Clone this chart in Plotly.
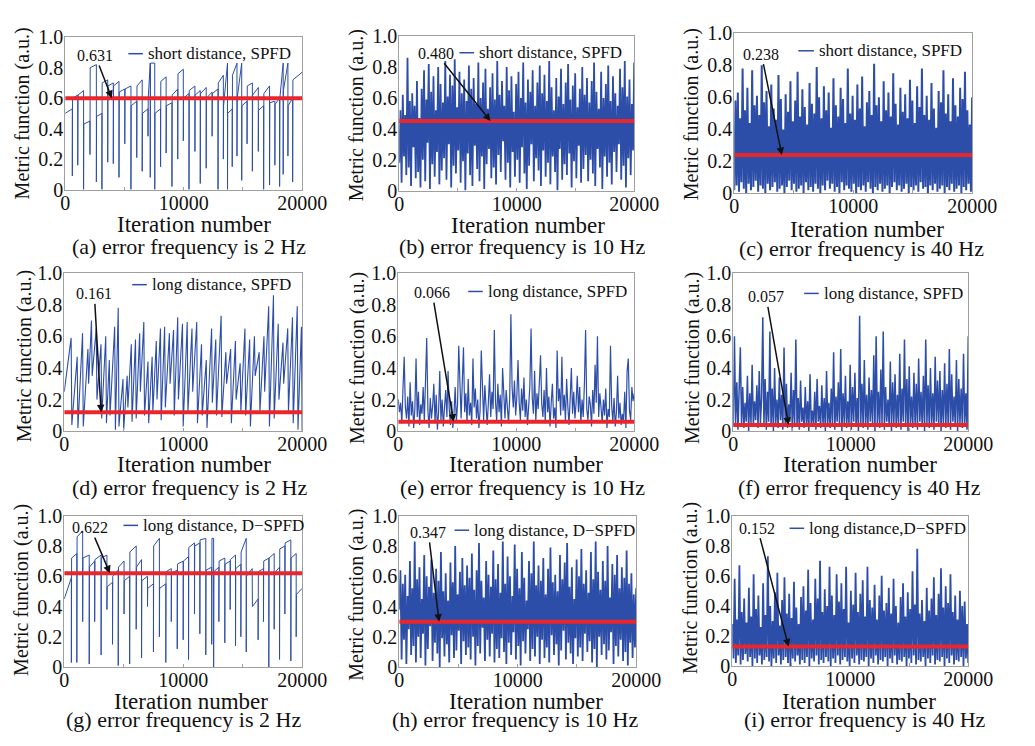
import plotly.graph_objects as go

W, H = 1035, 746          # reference picture size (layout is given in these pixels)
FONT = "Liberation Serif"
BLUE = "#2d4ea8"
RED = "#e8262c"
FRAME = "#a0a0a0"

# ---------------- data ----------------
x_ticks = [0, 5000, 10000, 15000, 20000]
x_ticktext = ["0", "", "10000", "", "20000"]
y_ticks = [0, 0.2, 0.4, 0.6, 0.8, 1.0]
y_ticktext = ["0", "0.2", "0.4", "0.6", "0.8", "1.0"]

legend_labels = ["short distance, SPFD", "short distance, SPFD", "short distance, SPFD",
                 "long distance, SPFD", "long distance, SPFD", "long distance, SPFD",
                 "long distance, D\u2212SPFD", "long distance, D\u2212SPFD", "long distance,D\u2212SPFD"]
captions = ["(a) error frequency is 2 Hz", "(b) error frequency is 10 Hz", "(c) error frequency is 40 Hz",
            "(d) error frequency is 2 Hz", "(e) error frequency is 10 Hz", "(f) error frequency is 40 Hz",
            "(g) error frequency is 2 Hz", "(h) error frequency is 10 Hz", "(i) error frequency is 40 Hz"]
mean_labels = ["0.631", "0.480", "0.238", "0.161", "0.066", "0.057", "0.622", "0.347", "0.152"]
mean_levels = [0.60, 0.45, 0.24, 0.12, 0.06, 0.04, 0.62, 0.30, 0.13]
arrow_iter = [3930, 7770, 4000, 3100, 4690, 4700, 3840, 3360, 4770]

# (a) short distance, SPFD, 2 Hz : plateau cycles
a_cycle_iter = [0, 600, 1060, 1550, 2090, 2630, 3100, 3590, 4060, 4540, 5030, 5550, 6040, 6500, 6990,
                7180, 7560, 8050, 8520, 9010, 9500, 9970, 10450, 10950, 11400, 11900, 12400, 12900,
                13350, 13700, 14100, 14500, 14900, 15350, 15800, 16300, 16750, 17250, 17700, 18100,
                18400, 18800, 19200]
a_low = [0.50, 0.09, 0.16, 0.00, 0.23, 0.05, 0.00, 0.18, 0.17, 0.08, 0.30, 0.00, 0.21, 0.12, 0.35,
         0.08, 0.00, 0.15, 0.24, 0.02, 0.20, 0.32, 0.00, 0.25, 0.04, 0.14, 0.35, 0.00, 0.20, 0.00,
         0.15, 0.22, 0.06, 0.30, 0.12, 0.25, 0.00, 0.03, 0.16, 0.02, 0.10, 0.22, 0.05]
a_start = [0.50, 0.60, 0.62, 0.43, 0.80, 0.48, 0.70, 0.68, 0.68, 0.64, 0.66, 0.55, 0.68, 0.50, 0.60,
           0.83, 0.50, 0.71, 0.55, 0.62, 0.76, 0.60, 0.65, 0.62, 0.63, 0.60, 0.63, 0.70, 0.55, 0.50,
           0.75, 0.60, 0.55, 0.68, 0.62, 0.52, 0.63, 0.57, 0.56, 0.60, 0.65, 0.55, 0.72]
a_end = [0.53, 0.62, 0.65, 0.45, 0.82, 0.50, 0.72, 0.70, 0.71, 0.66, 0.68, 0.58, 0.72, 0.53, 0.83,
         0.83, 0.53, 0.74, 0.57, 0.66, 0.79, 0.63, 0.68, 0.65, 0.67, 0.64, 0.66, 0.75, 0.83, 0.53,
         0.83, 0.83, 0.58, 0.70, 0.67, 0.55, 0.68, 0.58, 0.60, 0.83, 0.83, 0.60, 0.77]

# (b) short distance, SPFD, 10 Hz
b_vals = [0.18, 0.52, 0.05, 0.62, 0.22, 0.49, 0.10, 0.86, 0.15, 0.58, 0.03, 0.63, 0.28, 0.55, 0.08, 0.71, 0.12, 0.47, 0.02, 0.66,
          0.20, 0.78, 0.06, 0.59, 0.31, 0.82, 0.01, 0.64, 0.17, 0.74, 0.09, 0.52, 0.25, 0.80, 0.04, 0.69, 0.13, 0.57, 0.21, 0.84,
          0.07, 0.61, 0.30, 0.75, 0.02, 0.68, 0.16, 0.85, 0.11, 0.54, 0.26, 0.77, 0.05, 0.63, 0.19, 0.72, 0.00, 0.58, 0.24, 0.81,
          0.10, 0.66, 0.03, 0.73, 0.29, 0.56, 0.14, 0.83, 0.06, 0.60, 0.22, 0.70, 0.01, 0.79, 0.17, 0.53, 0.27, 0.67, 0.08, 0.76,
          0.15, 0.59, 0.04, 0.84, 0.23, 0.62, 0.12, 0.71, 0.32, 0.55, 0.07, 0.80, 0.18, 0.65, 0.02, 0.74, 0.25, 0.51, 0.09, 0.69,
          0.20, 0.77, 0.05, 0.60, 0.28, 0.83, 0.11, 0.57, 0.01, 0.72, 0.16, 0.64, 0.30, 0.78, 0.06, 0.55, 0.21, 0.70, 0.13, 0.81,
          0.03, 0.63, 0.26, 0.75, 0.09, 0.58, 0.18, 0.84, 0.04, 0.67, 0.22, 0.52, 0.12, 0.73, 0.00, 0.61, 0.27, 0.79, 0.07, 0.56,
          0.17, 0.70, 0.10, 0.82, 0.24, 0.59, 0.02, 0.68, 0.19, 0.76, 0.08, 0.54, 0.29, 0.66, 0.05, 0.80, 0.14, 0.62, 0.23, 0.73,
          0.06, 0.57, 0.20, 0.71, 0.11, 0.83, 0.03, 0.64, 0.27, 0.53, 0.15, 0.77, 0.01, 0.60, 0.22, 0.69, 0.09, 0.81, 0.18, 0.58,
          0.04, 0.74, 0.25, 0.63, 0.12, 0.55, 0.30, 0.79, 0.07, 0.67, 0.16, 0.84, 0.02, 0.61, 0.21, 0.72, 0.10, 0.56, 0.26, 0.83]

# (c) short distance, SPFD, 40 Hz
c_vals = [0.02, 0.58, 0.05, 0.63, 0.01, 0.47, 0.07, 0.78, 0.03, 0.52, 0.00, 0.66, 0.06, 0.44, 0.02, 0.77, 0.04, 0.55, 0.08, 0.61,
          0.01, 0.49, 0.05, 0.80, 0.03, 0.57, 0.00, 0.64, 0.06, 0.42, 0.02, 0.68, 0.04, 0.53, 0.07, 0.46, 0.01, 0.74, 0.03, 0.59,
          0.05, 0.40, 0.00, 0.62, 0.04, 0.51, 0.08, 0.70, 0.02, 0.45, 0.06, 0.58, 0.01, 0.76, 0.03, 0.48, 0.05, 0.65, 0.00, 0.54,
          0.07, 0.43, 0.02, 0.69, 0.04, 0.56, 0.01, 0.50, 0.06, 0.79, 0.03, 0.60, 0.00, 0.47, 0.05, 0.67, 0.02, 0.52, 0.08, 0.63,
          0.03, 0.41, 0.06, 0.72, 0.01, 0.55, 0.04, 0.48, 0.00, 0.66, 0.07, 0.59, 0.02, 0.44, 0.05, 0.78, 0.03, 0.50, 0.01, 0.61,
          0.06, 0.46, 0.00, 0.68, 0.04, 0.53, 0.02, 0.73, 0.05, 0.42, 0.01, 0.57, 0.07, 0.64, 0.03, 0.49, 0.00, 0.81, 0.04, 0.55,
          0.02, 0.60, 0.06, 0.45, 0.01, 0.70, 0.03, 0.52, 0.05, 0.63, 0.00, 0.48, 0.04, 0.75, 0.07, 0.56, 0.02, 0.43, 0.05, 0.66,
          0.01, 0.51, 0.03, 0.62, 0.06, 0.47, 0.00, 0.71, 0.04, 0.58, 0.02, 0.44, 0.05, 0.67, 0.01, 0.54, 0.07, 0.78, 0.03, 0.49,
          0.04, 0.61, 0.00, 0.46, 0.05, 0.69, 0.02, 0.53, 0.06, 0.41, 0.01, 0.64, 0.03, 0.57, 0.05, 0.77, 0.00, 0.50, 0.04, 0.62,
          0.02, 0.45, 0.06, 0.72, 0.01, 0.55, 0.03, 0.48, 0.05, 0.66, 0.00, 0.59, 0.04, 0.76, 0.02, 0.52, 0.06, 0.43, 0.01, 0.60]

# (d) long distance, SPFD, 2 Hz : ramp cycles
d_trough_iter = [0, 640, 1150, 1600, 2050, 2350, 2750, 3150, 3550, 3850, 4300, 4600, 5000, 5350, 5700,
                 6050, 6400, 6750, 7100, 7450, 7800, 8150, 8500, 8900, 9250, 9600, 10000, 10400, 10800,
                 11200, 11600, 12000, 12450, 12800, 13250, 13650, 14050, 14450, 14850, 15250, 15650,
                 16050, 16450, 16850, 17250, 17650, 18050, 18450, 18850, 19250, 19650]
d_trough = [0.25, 0.04, 0.02, 0.03, 0.30, 0.35, 0.20, 0.08, 0.05, 0.10, 0.01, 0.03, 0.01, 0.15, 0.06,
            0.08, 0.25, 0.10, 0.05, 0.12, 0.20, 0.07, 0.15, 0.30, 0.10, 0.20, 0.03, 0.12, 0.25, 0.05,
            0.10, 0.02, 0.18, 0.10, 0.09, 0.30, 0.05, 0.20, 0.12, 0.10, 0.03, 0.35, 0.12, 0.25, 0.03,
            0.08, 0.20, 0.30, 0.12, 0.05, 0.01]
d_peak = [0.59, 0.47, 0.62, 0.52, 0.70, 0.65, 0.55, 0.60, 0.45, 0.66, 0.78, 0.33, 0.35, 0.55, 0.58,
          0.62, 0.69, 0.44, 0.47, 0.57, 0.65, 0.66, 0.62, 0.64, 0.72, 0.68, 0.69, 0.65, 0.69, 0.55,
          0.45, 0.65, 0.58, 0.73, 0.50, 0.52, 0.57, 0.43, 0.65, 0.58, 0.60, 0.50, 0.60, 0.79, 0.86,
          0.68, 0.56, 0.65, 0.72, 0.79, 0.66]
d_tail = 0.0

# (e) long distance, SPFD, 10 Hz
e_vals = [0.20, 0.12, 0.18, 0.05, 0.27, 0.47, 0.15, 0.08, 0.22, 0.03, 0.31, 0.10, 0.19, 0.02, 0.14, 0.46, 0.09, 0.25, 0.04, 0.17,
          0.11, 0.28, 0.06, 0.35, 0.59, 0.13, 0.02, 0.21, 0.08, 0.16, 0.30, 0.05, 0.23, 0.01, 0.12, 0.38, 0.07, 0.20, 0.03, 0.15,
          0.26, 0.09, 0.38, 0.14, 0.04, 0.19, 0.02, 0.11, 0.28, 0.06, 0.17, 0.54, 0.21, 0.08, 0.31, 0.53, 0.12, 0.24, 0.05, 0.33,
          0.10, 0.18, 0.04, 0.46, 0.15, 0.27, 0.08, 0.20, 0.02, 0.13, 0.51, 0.22, 0.07, 0.29, 0.11, 0.04, 0.18, 0.36, 0.09, 0.25,
          0.14, 0.64, 0.19, 0.06, 0.30, 0.12, 0.23, 0.03, 0.40, 0.17, 0.08, 0.26, 0.13, 0.05, 0.21, 0.74, 0.28, 0.15, 0.32, 0.10,
          0.22, 0.45, 0.18, 0.07, 0.27, 0.13, 0.34, 0.09, 0.20, 0.04, 0.16, 0.29, 0.65, 0.21, 0.11, 0.38, 0.06, 0.24, 0.14, 0.31,
          0.48, 0.17, 0.09, 0.26, 0.05, 0.40, 0.12, 0.22, 0.03, 0.18, 0.30, 0.08, 0.15, 0.02, 0.51, 0.19, 0.27, 0.10, 0.47, 0.13,
          0.23, 0.06, 0.33, 0.16, 0.04, 0.21, 0.40, 0.11, 0.25, 0.08, 0.18, 0.35, 0.12, 0.28, 0.05, 0.20, 0.09, 0.30, 0.64, 0.14,
          0.07, 0.22, 0.17, 0.03, 0.26, 0.11, 0.42, 0.18, 0.60, 0.09, 0.24, 0.15, 0.05, 0.20, 0.10, 0.27, 0.02, 0.14, 0.09, 0.54,
          0.16, 0.06, 0.21, 0.03, 0.12, 0.35, 0.08, 0.18, 0.04, 0.11, 0.06, 0.25, 0.02, 0.38, 0.46, 0.13, 0.07, 0.28, 0.19, 0.24]

# (f) long distance, SPFD, 40 Hz
f_vals = [0.03, 0.60, 0.05, 0.31, 0.01, 0.22, 0.53, 0.04, 0.28, 0.02, 0.18, 0.06, 0.35, 0.00, 0.24, 0.05, 0.42, 0.03, 0.19, 0.07,
          0.29, 0.02, 0.38, 0.05, 0.21, 0.72, 0.04, 0.33, 0.01, 0.25, 0.06, 0.63, 0.03, 0.27, 0.00, 0.40, 0.05, 0.20, 0.02, 0.34,
          0.07, 0.23, 0.01, 0.53, 0.04, 0.30, 0.02, 0.17, 0.06, 0.37, 0.00, 0.26, 0.05, 0.58, 0.03, 0.21, 0.01, 0.32, 0.06, 0.15,
          0.02, 0.28, 0.04, 0.19, 0.00, 0.36, 0.05, 0.13, 0.03, 0.25, 0.01, 0.33, 0.06, 0.16, 0.02, 0.29, 0.04, 0.21, 0.00, 0.38,
          0.05, 0.18, 0.02, 0.27, 0.04, 0.50, 0.01, 0.22, 0.06, 0.31, 0.03, 0.52, 0.00, 0.24, 0.05, 0.35, 0.02, 0.19, 0.04, 0.42,
          0.01, 0.28, 0.06, 0.37, 0.03, 0.21, 0.00, 0.73, 0.05, 0.30, 0.02, 0.45, 0.04, 0.23, 0.01, 0.34, 0.06, 0.26, 0.03, 0.48,
          0.00, 0.60, 0.05, 0.25, 0.02, 0.39, 0.04, 0.63, 0.01, 0.28, 0.06, 0.20, 0.03, 0.44, 0.00, 0.31, 0.05, 0.36, 0.02, 0.23,
          0.04, 0.49, 0.01, 0.27, 0.06, 0.58, 0.03, 0.33, 0.00, 0.41, 0.05, 0.22, 0.02, 0.37, 0.04, 0.30, 0.01, 0.46, 0.06, 0.25,
          0.03, 0.35, 0.00, 0.58, 0.05, 0.29, 0.02, 0.40, 0.04, 0.24, 0.01, 0.47, 0.06, 0.32, 0.03, 0.38, 0.00, 0.26, 0.05, 0.43,
          0.02, 0.30, 0.04, 0.52, 0.01, 0.36, 0.06, 0.22, 0.03, 0.45, 0.00, 0.33, 0.05, 0.27, 0.02, 0.49, 0.04, 0.24, 0.01, 0.60]

# (g) long distance, D-SPFD, 2 Hz : plateau cycles
g_cycle_iter = [0, 600, 1060, 1550, 2100, 2560, 3100, 3590, 4060, 4540, 5030, 5500, 6050, 6500, 7000,
                7500, 8000, 8540, 9000, 9500, 10000, 10450, 10950, 11400, 11900, 12400, 12560, 13000,
                13500, 13950, 14400, 14850, 15300, 15800, 16300, 16750, 17200, 17650, 18100, 18550,
                19050, 19500]
g_low = [0.45, 0.03, 0.03, 0.30, 0.02, 0.30, 0.08, 0.38, 0.15, 0.01, 0.35, 0.02, 0.25, 0.06, 0.40,
         0.10, 0.20, 0.03, 0.30, 0.12, 0.18, 0.05, 0.35, 0.22, 0.08, 0.15, 0.00, 0.30, 0.16, 0.38,
         0.14, 0.20, 0.10, 0.45, 0.18, 0.30, 0.00, 0.25, 0.05, 0.35, 0.04, 0.20]
g_start = [0.45, 0.72, 0.86, 0.72, 0.66, 0.71, 0.72, 0.53, 0.60, 0.66, 0.57, 0.76, 0.66, 0.57, 0.52,
           0.80, 0.52, 0.63, 0.62, 0.68, 0.70, 0.79, 0.80, 0.84, 0.64, 0.85, 0.63, 0.70, 0.68, 0.71,
           0.65, 0.76, 0.60, 0.40, 0.63, 0.70, 0.72, 0.62, 0.78, 0.82, 0.72, 0.48]
g_end = [0.59, 0.75, 0.90, 0.74, 0.70, 0.74, 0.74, 0.56, 0.64, 0.70, 0.60, 0.80, 0.71, 0.60, 0.55,
         0.85, 0.55, 0.65, 0.64, 0.70, 0.73, 0.82, 0.82, 0.85, 0.66, 0.85, 0.66, 0.72, 0.70, 0.74,
         0.68, 0.85, 0.65, 0.45, 0.65, 0.72, 0.75, 0.66, 0.80, 0.84, 0.75, 0.52]

# (h) long distance, D-SPFD, 10 Hz
h_vals = [0.38, 0.64, 0.05, 0.55, 0.18, 0.61, 0.02, 0.47, 0.25, 0.70, 0.08, 0.52, 0.14, 0.83, 0.03, 0.58, 0.20, 0.66, 0.06, 0.45,
          0.22, 0.74, 0.01, 0.60, 0.12, 0.53, 0.27, 0.71, 0.04, 0.49, 0.16, 0.65, 0.09, 0.57, 0.00, 0.76, 0.19, 0.50, 0.07, 0.62,
          0.15, 0.44, 0.03, 0.69, 0.21, 0.56, 0.06, 0.80, 0.11, 0.48, 0.24, 0.63, 0.02, 0.72, 0.17, 0.54, 0.08, 0.67, 0.13, 0.59,
          0.05, 0.75, 0.20, 0.51, 0.01, 0.64, 0.14, 0.82, 0.09, 0.57, 0.26, 0.46, 0.04, 0.70, 0.18, 0.61, 0.07, 0.53, 0.22, 0.77,
          0.03, 0.58, 0.12, 0.68, 0.06, 0.49, 0.19, 0.83, 0.10, 0.55, 0.02, 0.73, 0.16, 0.60, 0.08, 0.47, 0.23, 0.81, 0.05, 0.65,
          0.14, 0.52, 0.01, 0.76, 0.17, 0.59, 0.09, 0.44, 0.25, 0.70, 0.04, 0.62, 0.12, 0.83, 0.07, 0.54, 0.20, 0.67, 0.02, 0.57,
          0.18, 0.72, 0.06, 0.48, 0.13, 0.65, 0.03, 0.79, 0.21, 0.56, 0.08, 0.61, 0.15, 0.50, 0.01, 0.74, 0.11, 0.58, 0.24, 0.69,
          0.05, 0.82, 0.16, 0.53, 0.09, 0.66, 0.02, 0.45, 0.19, 0.71, 0.07, 0.60, 0.13, 0.78, 0.04, 0.55, 0.22, 0.64, 0.10, 0.49,
          0.17, 0.76, 0.03, 0.58, 0.12, 0.83, 0.00, 0.63, 0.20, 0.51, 0.08, 0.70, 0.15, 0.57, 0.05, 0.80, 0.11, 0.46, 0.23, 0.68,
          0.02, 0.61, 0.14, 0.74, 0.07, 0.52, 0.18, 0.66, 0.04, 0.59, 0.10, 0.77, 0.01, 0.55, 0.16, 0.62, 0.06, 0.48, 0.13, 0.52]

# (i) long distance, D-SPFD, 40 Hz
i_vals = [0.28, 0.05, 0.58, 0.02, 0.31, 0.07, 0.67, 0.01, 0.36, 0.04, 0.45, 0.08, 0.29, 0.03, 0.52, 0.06, 0.33, 0.00, 0.61, 0.05,
          0.38, 0.02, 0.47, 0.07, 0.26, 0.01, 0.55, 0.04, 0.34, 0.06, 0.73, 0.03, 0.40, 0.00, 0.30, 0.05, 0.49, 0.02, 0.62, 0.07,
          0.27, 0.01, 0.44, 0.04, 0.59, 0.06, 0.35, 0.02, 0.48, 0.00, 0.32, 0.05, 0.56, 0.03, 0.39, 0.07, 0.28, 0.01, 0.46, 0.04,
          0.53, 0.02, 0.37, 0.06, 0.64, 0.00, 0.42, 0.05, 0.31, 0.03, 0.58, 0.07, 0.45, 0.01, 0.70, 0.04, 0.36, 0.02, 0.51, 0.06,
          0.40, 0.03, 0.66, 0.00, 0.47, 0.05, 0.34, 0.02, 0.61, 0.07, 0.43, 0.01, 0.55, 0.04, 0.38, 0.06, 0.66, 0.03, 0.29, 0.00,
          0.50, 0.05, 0.41, 0.02, 0.62, 0.07, 0.36, 0.01, 0.48, 0.04, 0.57, 0.03, 0.33, 0.06, 0.66, 0.00, 0.44, 0.05, 0.39, 0.02,
          0.54, 0.07, 0.31, 0.01, 0.47, 0.04, 0.60, 0.03, 0.37, 0.06, 0.42, 0.00, 0.52, 0.05, 0.35, 0.02, 0.58, 0.07, 0.40, 0.01,
          0.29, 0.04, 0.46, 0.03, 0.55, 0.06, 0.33, 0.00, 0.49, 0.05, 0.38, 0.02, 0.63, 0.07, 0.41, 0.01, 0.78, 0.04, 0.35, 0.03,
          0.44, 0.06, 0.30, 0.00, 0.52, 0.05, 0.37, 0.02, 0.45, 0.07, 0.59, 0.01, 0.34, 0.04, 0.48, 0.03, 0.65, 0.06, 0.39, 0.00,
          0.53, 0.05, 0.42, 0.02, 0.61, 0.07, 0.36, 0.01, 0.47, 0.04, 0.31, 0.03, 0.50, 0.06, 0.40, 0.00, 0.43, 0.05, 0.28, 0.02]


# ---------------- series construction ----------------
def plateau_series(c_iter, low, start, end, last=20000):
    xs, ys = [], []
    n = len(c_iter)
    for k in range(n):
        c = c_iter[k]
        nxt = c_iter[k + 1] if k + 1 < n else last
        if k > 0:
            xs.append(c)
            ys.append(low[k])
            xs.append(c + 20)
        else:
            xs.append(c)
        ys.append(start[k])
        xs.append(nxt)
        ys.append(end[k])
    return xs, ys


def ramp_series(t_iter, trough, peak, tail, last=20000):
    xs, ys = [], []
    n = len(t_iter)
    for k in range(n):
        nxt = t_iter[k + 1] if k + 1 < n else last
        xs += [t_iter[k], nxt - 60]
        ys += [trough[k], peak[k]]
    xs.append(last)
    ys.append(tail)
    return xs, ys


def dense_series(vals, last=20000):
    n = len(vals)
    return [round(k * last / (n - 1)) for k in range(n)], vals


series = [
    plateau_series(a_cycle_iter, a_low, a_start, a_end),
    dense_series(b_vals),
    dense_series(c_vals),
    ramp_series(d_trough_iter, d_trough, d_peak, d_tail),
    dense_series(e_vals),
    dense_series(f_vals),
    plateau_series(g_cycle_iter, g_low, g_start, g_end),
    dense_series(h_vals),
    dense_series(i_vals),
]
line_widths = [1.0, 1.8, 2.0, 1.1, 1.2, 1.5, 1.0, 1.8, 1.8]

# ---------------- layout geometry (reference pixels) ----------------
# plot rectangles: left, right, top, bottom
rects = [(62, 306, 27, 184), (406, 648, 26, 185), (751, 996, 23, 188),
         (61, 306, 270, 433), (405, 648, 270, 433), (750, 992, 270, 433),
         (61, 306, 520, 676), (406, 650, 520, 676), (749, 992, 520, 675)]
arrow_offsets = [(-17, -44), (-56, -70), (-21, -104), (-7, -122), (-22, -133),
                 (-23, -132), (-20, -47), (-11, -92), (-32, -122)]
legend_pos = [(127, 142, 44), (468, 483, 43), (817, 833, 41),
              (131, 146, 282), (477, 492, 289), (823, 838, 291),
              (122, 137, 530), (463, 478, 535), (808, 823, 533)]
xtitle_pos = [(195, 220), (539, 221), (888, 225), (195, 467), (537, 467), (881, 467),
              (192, 711), (537, 711), (879, 711)]
ytitle_pos = [(18, 105), (362, 108), (707, 107), (20, 355), (363, 357), (708, 357),
              (17, 597), (362, 602), (706, 595)]
caption_pos = [(190, 243), (532, 243), (882, 245), (190, 491), (533, 491), (880, 491),
               (184, 730), (525, 730), (886, 730)]


def px(x):
    return x / W


def py(y):
    return 1 - y / H


fig = go.Figure()
annotations = []
shapes = []
layout_axes = {}

for k in range(9):
    n = k + 1
    xa = "x" if n == 1 else f"x{n}"
    ya = "y" if n == 1 else f"y{n}"
    xs, ys = series[k]
    fig.add_trace(go.Scatter(x=xs, y=ys, mode="lines", line=dict(color=BLUE, width=line_widths[k]),
                             xaxis=xa, yaxis=ya, showlegend=False, hoverinfo="skip"))
    fig.add_trace(go.Scatter(x=[0, 20000], y=[mean_levels[k], mean_levels[k]], mode="lines",
                             line=dict(color=RED, width=4), xaxis=xa, yaxis=ya,
                             showlegend=False, hoverinfo="skip"))
    l, r, t, b = rects[k]
    xkey = "xaxis" if n == 1 else f"xaxis{n}"
    ykey = "yaxis" if n == 1 else f"yaxis{n}"
    layout_axes[xkey] = dict(domain=[px(l), px(r)], range=[0, 20000], anchor=ya,
                             tickvals=x_ticks, ticktext=x_ticktext, showgrid=False, zeroline=False,
                             showline=True, linecolor=FRAME, linewidth=1, mirror=True,
                             ticks="inside", ticklen=3, tickcolor=FRAME, ticklabelstandoff=-5,
                             tickfont=dict(family=FONT, size=20, color="#111"))
    layout_axes[ykey] = dict(domain=[py(b), py(t)], range=[0, 1], anchor=xa,
                             tickvals=y_ticks, ticktext=y_ticktext, showgrid=False, zeroline=False,
                             showline=True, linecolor=FRAME, linewidth=1, mirror=True,
                             ticks="", ticklabelstandoff=-3,
                             tickfont=dict(family=FONT, size=20, color="#111"))
    # value annotation with arrow (tail offset given in data units of the panel)
    ox, oy = arrow_offsets[k]
    annotations.append(dict(x=arrow_iter[k], y=mean_levels[k], xref=xa, yref=ya,
                            text=mean_labels[k], showarrow=True,
                            axref=xa, ayref=ya,
                            ax=arrow_iter[k] + ox * 20000 / (r - l),
                            ay=mean_levels[k] - oy / (b - t),
                            arrowhead=2, arrowsize=1, arrowwidth=1.5, arrowcolor="#111",
                            standoff=0, font=dict(family=FONT, size=16, color="#111")))
    # legend
    lx1, lx2, ly = legend_pos[k]
    shapes.append(dict(type="line", xref="paper", yref="paper", x0=px(lx1), x1=px(lx2),
                       y0=py(ly), y1=py(ly), line=dict(color=BLUE, width=1.5)))
    annotations.append(dict(x=px(lx2 + 3), y=py(ly), xref="paper", yref="paper",
                            text=legend_labels[k], showarrow=False, xanchor="left", yanchor="middle",
                            font=dict(family=FONT, size=17, color="#111")))
    # axis titles
    tx, ty = xtitle_pos[k]
    annotations.append(dict(x=px(tx), y=py(ty), xref="paper", yref="paper", text="Iteration number",
                            showarrow=False, xanchor="center", yanchor="middle",
                            font=dict(family=FONT, size=23, color="#111")))
    yx, yy = ytitle_pos[k]
    annotations.append(dict(x=px(yx), y=py(yy), xref="paper", yref="paper",
                            text="Metric function (a.u.)", textangle=-90,
                            showarrow=False, xanchor="center", yanchor="middle",
                            font=dict(family=FONT, size=20, color="#111")))
    cx, cy = caption_pos[k]
    annotations.append(dict(x=px(cx), y=py(cy), xref="paper", yref="paper", text=captions[k],
                            showarrow=False, xanchor="center", yanchor="middle",
                            font=dict(family=FONT, size=22, color="#111")))

fig.update_layout(autosize=True, margin=dict(l=0, r=0, t=0, b=0),
                  paper_bgcolor="white", plot_bgcolor="white",
                  annotations=annotations, shapes=shapes, **layout_axes)

fill_window = """
document.documentElement.style.margin='0';
document.documentElement.style.height='100%';
document.body.style.margin='0';
document.body.style.height='100%';
document.body.style.overflow='hidden';
var gd = document.getElementById('{plot_id}');
gd.parentElement.style.height='100%';
gd.style.width='100vw';
gd.style.height='100vh';
Plotly.Plots.resize(gd);
"""

fig.write_html("out.html", default_width="100vw", default_height="100vh",
               config={"displayModeBar": False, "responsive": True},
               post_script=fill_window)
